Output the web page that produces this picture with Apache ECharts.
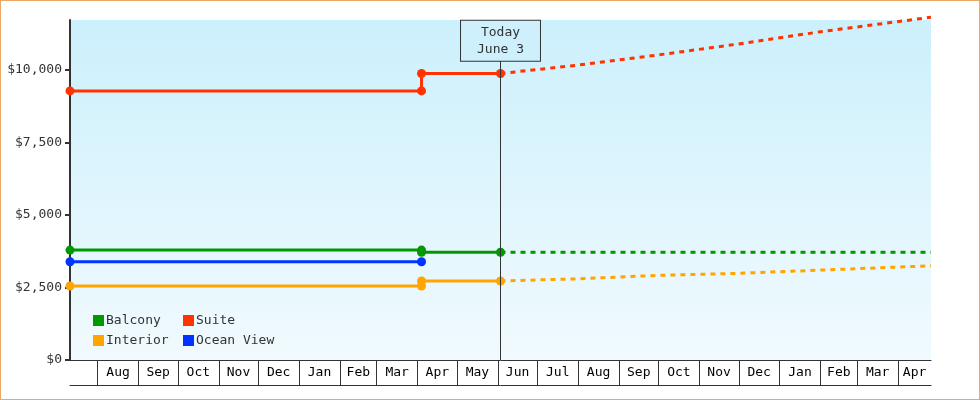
<!DOCTYPE html>
<html lang="en">
<head>
<meta charset="UTF-8">
<title>Cabin prices</title>
<script src="https://cdn.jsdelivr.net/npm/echarts@6.0.0/dist/echarts.min.js"></script>
<style>
  html, body { margin: 0; padding: 0; background: #fff; }
  #wrap { position: relative; width: 980px; height: 400px; }
  #chart { position: absolute; left: 0; top: 0; width: 980px; height: 400px; }
  #frame { position: absolute; left: 0; top: 0; width: 980px; height: 400px;
           box-sizing: border-box; border: 1px solid #E9A964; pointer-events: none; }
</style>
</head>
<body>
<div id="wrap">
  <div id="chart"></div>
  <div id="frame"></div>
</div>
<script>
// axis range and key dates
var axisStart = '2013-07-11';
var axisEnd = '2015-04-26';
var today = '2014-06-03';

// month boxes on the x axis
var monthStarts = ['2013-08-01', '2013-09-01', '2013-10-01', '2013-11-01', '2013-12-01',
  '2014-01-01', '2014-02-01', '2014-03-01', '2014-04-01', '2014-05-01', '2014-06-01',
  '2014-07-01', '2014-08-01', '2014-09-01', '2014-10-01', '2014-11-01', '2014-12-01',
  '2015-01-01', '2015-02-01', '2015-03-01', '2015-04-01'];
var monthLabels = ['Aug', 'Sep', 'Oct', 'Nov', 'Dec', 'Jan', 'Feb', 'Mar', 'Apr', 'May', 'Jun',
  'Jul', 'Aug', 'Sep', 'Oct', 'Nov', 'Dec', 'Jan', 'Feb', 'Mar', 'Apr'];

// y ticks
var yTicks = [0, 2500, 5000, 7500, 10000];

// price history (solid)
var balcony = [['2013-07-11', 3790], ['2014-04-04', 3790], ['2014-04-04', 3715], ['2014-06-03', 3715]];
var suite = [['2013-07-11', 9280], ['2014-04-04', 9280], ['2014-04-04', 9880], ['2014-06-03', 9880]];
var interior = [['2013-07-11', 2550], ['2014-04-04', 2550], ['2014-04-04', 2725], ['2014-06-03', 2725]];
var oceanView = [['2013-07-11', 3390], ['2014-04-04', 3390]];

// projections (dashed)
var balconyProj = [['2014-06-03', 3715], ['2015-04-26', 3715]];
var suiteProj = [['2014-06-03', 9880], ['2014-08-01', 10170], ['2014-10-01', 10520],
  ['2014-12-01', 10900], ['2015-02-01', 11320], ['2015-04-26', 11820]];
var interiorProj = [['2014-06-03', 2725], ['2014-08-01', 2800], ['2014-10-01', 2920],
  ['2014-12-01', 2990], ['2015-02-01', 3100], ['2015-04-26', 3250]];

var colors = { Balcony: '#009900', Suite: '#FF3300', Interior: '#FFA500', 'Ocean View': '#0033FF' };

function t(s) {
  var p = s.split('-');
  return Date.UTC(+p[0], +p[1] - 1, +p[2]);
}
function pts(list) {
  return list.map(function (d) { return [t(d[0]), d[1]]; });
}

var tickValues = monthStarts.map(t);
var startTime = t(axisStart);
var endTime = t(axisEnd);
var labelValues = tickValues.map(function (v, i) {
  var next = i + 1 < tickValues.length ? tickValues[i + 1] : endTime;
  return Math.round((v + Math.min(next, endTime)) / 2);
});
var labelMap = {};
labelValues.forEach(function (v, i) { labelMap[v] = monthLabels[i]; });

var font = 'DejaVu Sans Mono';

function solid(name, data) {
  return {
    name: name, type: 'line', data: pts(data),
    symbol: 'circle', symbolSize: 9,
    itemStyle: { color: colors[name] },
    lineStyle: { width: 3, color: colors[name] },
    emphasis: { disabled: true },
    z: 3
  };
}
function dashed(name, data) {
  return {
    name: name, type: 'line', data: pts(data),
    showSymbol: false, clip: false,
    itemStyle: { color: colors[name] },
    lineStyle: { width: 3, type: [5, 5], color: colors[name] },
    emphasis: { disabled: true },
    z: 2
  };
}

var chart = echarts.init(document.getElementById('chart'));

var suiteProjSeries = dashed('Suite', suiteProj);
suiteProjSeries.markLine = {
  silent: true,
  symbol: ['none', 'none'],
  lineStyle: { color: '#333', width: 1, type: 'solid' },
  label: {
    show: true, position: 'end', distance: 0,
    formatter: 'Today\nJune 3',
    fontFamily: font, fontSize: 13, lineHeight: 17, color: '#333',
    backgroundColor: '#CDF0FC', borderColor: '#333', borderWidth: 1,
    padding: [3, 16]
  },
  data: [[{ coord: [t(today), 0] }, { coord: [t(today), 10320] }]]
};

var legendText = { fontFamily: font, fontSize: 13, color: '#333', padding: [0, 0, 0, -3] };

chart.setOption({
  animation: false,
  textStyle: { fontFamily: font },
  grid: {
    left: 70, right: 49, top: 20, bottom: 40,
    show: true, borderWidth: 0,
    backgroundColor: new echarts.graphic.LinearGradient(0, 0, 0, 1, [
      { offset: 0, color: '#CCF0FC' },
      { offset: 1, color: '#F1FAFE' }
    ])
  },
  legend: [
    {
      data: ['Balcony', 'Interior'], orient: 'vertical', left: 93, top: 314, padding: 0,
      icon: 'rect', itemWidth: 11, itemHeight: 11, itemGap: 7, textStyle: legendText
    },
    {
      data: ['Suite', 'Ocean View'], orient: 'vertical', left: 183, top: 314, padding: 0,
      icon: 'rect', itemWidth: 11, itemHeight: 11, itemGap: 7, textStyle: legendText
    }
  ],
  xAxis: [
    {
      type: 'value', min: startTime, max: endTime,
      axisLine: { show: true, onZero: false, lineStyle: { color: '#333', width: 1 } },
      axisTick: { show: true, customValues: tickValues, length: 25, lineStyle: { color: '#333', width: 1 } },
      axisLabel: {
        customValues: labelValues, margin: 6,
        fontFamily: font, fontSize: 13, color: '#000',
        formatter: function (v) { return labelMap[v] || ''; }
      },
      splitLine: { show: false }
    },
    {
      type: 'value', min: startTime, max: endTime, position: 'bottom', offset: 25,
      axisLine: { show: true, onZero: false, lineStyle: { color: '#333', width: 1 } },
      axisTick: { show: false }, axisLabel: { show: false }, splitLine: { show: false }
    }
  ],
  yAxis: {
    type: 'value', min: 0, max: 11725,
    axisLine: { show: true, lineStyle: { color: '#333', width: 2 } },
    axisTick: { show: true, customValues: yTicks, length: 5, lineStyle: { color: '#333', width: 2 } },
    axisLabel: {
      customValues: yTicks, margin: 8,
      fontFamily: font, fontSize: 13, color: '#333',
      formatter: function (v) { return '$' + v.toLocaleString('en-US'); }
    },
    splitLine: { show: false }
  },
  series: [
    dashed('Balcony', balconyProj),
    dashed('Interior', interiorProj),
    suiteProjSeries,
    solid('Balcony', balcony),
    solid('Suite', suite),
    solid('Interior', interior),
    solid('Ocean View', oceanView)
  ]
});
</script>
</body>
</html>
